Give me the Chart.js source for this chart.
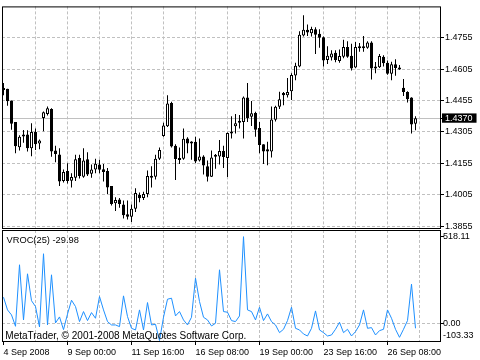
<!DOCTYPE html>
<html>
<head>
<meta charset="utf-8">
<script src="https://cdn.jsdelivr.net/npm/chart.js@4.4.1/dist/chart.umd.min.js"></script>
<style>
  html, body { margin: 0; padding: 0; background: #fff; }
  #wrap { position: relative; width: 480px; height: 360px; overflow: hidden; }
  canvas { position: absolute; left: 0; top: 0; }
  .note { position: absolute; font-family: "Liberation Sans", Arial, sans-serif; color: #000; white-space: nowrap; }
</style>
</head>
<body>
<div id="wrap">
  <canvas id="priceChart" width="480" height="360"></canvas>
  <canvas id="vrocChart" width="480" height="360"></canvas>
  <div class="note" style="left:6.5px; top:236px; font-size:9.3px; line-height:9.3px;">VROC(25) -29.98</div>
  <div class="note" style="left:5.3px; top:330.5px; font-size:10px; line-height:10px;">MetaTrader, © 2001-2008 MetaQuotes Software Corp.</div>
</div>
<script>
// EURUSD H4, 4 Sep - 26 Sep 2008 (one value per bar)
const opens = [
  1.4505, 1.4511, 1.4455, 1.4352, 1.4232, 1.4283, 1.4293, 1.4227, 1.4305, 1.4250,
  1.4372, 1.4391, 1.4414, 1.4216, 1.4197, 1.4071, 1.4118, 1.4072, 1.4086, 1.4180,
  1.4091, 1.4174, 1.4105, 1.4125, 1.4149, 1.4127, 1.4118, 1.4046, 1.3964, 1.3982,
  1.3958, 1.3911, 1.3899, 1.3938, 1.4005, 1.3989, 1.4008, 1.4094, 1.4091, 1.4177,
  1.4285, 1.4332, 1.4443, 1.4239, 1.4180, 1.4177, 1.4274, 1.4258, 1.4258, 1.4169,
  1.4188, 1.4141, 1.4091, 1.4186, 1.4188, 1.4214, 1.4180, 1.4305, 1.4332, 1.4358,
  1.4352, 1.4469, 1.4377, 1.4396, 1.4324, 1.4246, 1.4222, 1.4211, 1.4363, 1.4425,
  1.4491, 1.4480, 1.4499, 1.4575, 1.4618, 1.4766, 1.4793, 1.4777, 1.4796, 1.4774,
  1.4758, 1.4649, 1.4661, 1.4683, 1.4644, 1.4664, 1.4711, 1.4669, 1.4613, 1.4711,
  1.4705, 1.4707, 1.4733, 1.4618, 1.4614, 1.4664, 1.4636, 1.4583, 1.4628, 1.4608,
  1.4516, 1.4496, 1.4469, 1.4344
];
const highs = [
  1.4539, 1.4511, 1.4455, 1.4352, 1.4289, 1.4314, 1.4313, 1.4347, 1.4321, 1.4269,
  1.4403, 1.4427, 1.4418, 1.4239, 1.4227, 1.4125, 1.4155, 1.4108, 1.4196, 1.4196,
  1.4227, 1.4208, 1.4149, 1.4177, 1.4172, 1.4152, 1.4133, 1.4046, 1.3993, 1.3989,
  1.3977, 1.3977, 1.3958, 1.4036, 1.4016, 1.4019, 1.4121, 1.4141, 1.4196, 1.4230,
  1.4349, 1.4480, 1.4449, 1.4246, 1.4230, 1.4321, 1.4280, 1.4261, 1.4282, 1.4274,
  1.4193, 1.4168, 1.4216, 1.4200, 1.4266, 1.4239, 1.4302, 1.4380, 1.4391, 1.4386,
  1.4474, 1.4539, 1.4453, 1.4402, 1.4352, 1.4246, 1.4258, 1.4427, 1.4430, 1.4497,
  1.4496, 1.4563, 1.4586, 1.4636, 1.4786, 1.4863, 1.4818, 1.4808, 1.4805, 1.4796,
  1.4761, 1.4714, 1.4696, 1.4696, 1.4699, 1.4746, 1.4739, 1.4727, 1.4735, 1.4730,
  1.4763, 1.4738, 1.4739, 1.4639, 1.4677, 1.4672, 1.4646, 1.4641, 1.4652, 1.4625,
  1.4558, 1.4500, 1.4471, 1.4380
];
const lows = [
  1.4480, 1.4430, 1.4316, 1.4203, 1.4216, 1.4253, 1.4211, 1.4189, 1.4219, 1.4222,
  1.4308, 1.4383, 1.4186, 1.4160, 1.4047, 1.4063, 1.4058, 1.4039, 1.4071, 1.4082,
  1.4086, 1.4094, 1.4086, 1.4108, 1.4108, 1.4068, 1.4008, 1.3953, 1.3927, 1.3943,
  1.3891, 1.3886, 1.3875, 1.3922, 1.3969, 1.3980, 1.3993, 1.4039, 1.4078, 1.4171,
  1.4282, 1.4328, 1.4230, 1.4075, 1.4152, 1.4172, 1.4203, 1.4172, 1.4157, 1.4164,
  1.4102, 1.4068, 1.4089, 1.4129, 1.4149, 1.4133, 1.4089, 1.4274, 1.4297, 1.4321,
  1.4274, 1.4352, 1.4333, 1.4282, 1.4203, 1.4152, 1.4146, 1.4183, 1.4355, 1.4414,
  1.4433, 1.4469, 1.4458, 1.4552, 1.4614, 1.4761, 1.4763, 1.4761, 1.4677, 1.4707,
  1.4618, 1.4630, 1.4646, 1.4638, 1.4636, 1.4657, 1.4660, 1.4599, 1.4610, 1.4688,
  1.4688, 1.4702, 1.4555, 1.4586, 1.4610, 1.4618, 1.4578, 1.4552, 1.4574, 1.4602,
  1.4477, 1.4446, 1.4297, 1.4313
];
const closes = [
  1.4514, 1.4452, 1.4344, 1.4236, 1.4282, 1.4289, 1.4227, 1.4305, 1.4246, 1.4264,
  1.4399, 1.4418, 1.4211, 1.4199, 1.4068, 1.4113, 1.4071, 1.4089, 1.4174, 1.4094,
  1.4168, 1.4102, 1.4125, 1.4153, 1.4124, 1.4114, 1.4039, 1.3961, 1.3980, 1.3961,
  1.3907, 1.3899, 1.3938, 1.4013, 1.3988, 1.4008, 1.4094, 1.4086, 1.4177, 1.4219,
  1.4336, 1.4441, 1.4235, 1.4175, 1.4171, 1.4272, 1.4250, 1.4250, 1.4164, 1.4188,
  1.4144, 1.4091, 1.4183, 1.4194, 1.4214, 1.4185, 1.4300, 1.4297, 1.4347, 1.4349,
  1.4469, 1.4371, 1.4394, 1.4316, 1.4243, 1.4211, 1.4211, 1.4364, 1.4425, 1.4461,
  1.4480, 1.4496, 1.4577, 1.4621, 1.4769, 1.4793, 1.4780, 1.4797, 1.4769, 1.4755,
  1.4646, 1.4669, 1.4680, 1.4649, 1.4668, 1.4711, 1.4664, 1.4608, 1.4711, 1.4705,
  1.4710, 1.4732, 1.4608, 1.4608, 1.4668, 1.4633, 1.4583, 1.4628, 1.4610, 1.4603,
  1.4496, 1.4461, 1.4341, 1.4370
];
const vroc = [
  156, 80, 50, -18, 350, 20, 296, 135, 100, -22,
  416, -10, 290, 2, 38, -38, 55, 138, 100, 10,
  70, 16, 64, 30, 160, 80, 10, -10, -10, -20,
  164, 40, -30, -40, 80, -40, 124, -10, -6, -103.33,
  36, 144, 150, 44, 70, 20, -10, 36, 270, 130,
  36, 20, -16, 0, 320, 70, 66, 16, 10, 44,
  518.11, 80, 70, 20, 96, 16, 56, 10, -10, -56,
  -36, 16, 96, -30, -40, -64, -76, -30, 74, -40,
  -56, -76, -70, -36, 6, -56, -36, -76, -50, -10,
  80, -30, -26, -70, -44, -36, 80, 30, -36, -84,
  -36, 16, 234, -29.98
];

const timeTickBars = [0, 16, 32, 48, 64, 80, 96];
const timeTickLabels = ["4 Sep 2008", "9 Sep 00:00", "11 Sep 16:00", "16 Sep 08:00", "19 Sep 00:00", "23 Sep 16:00", "26 Sep 08:00"];
const timeGridBars = [8, 16, 24, 32, 40, 48, 56, 64, 72, 80, 88, 96, 104];
const priceTicks = [1.3855, 1.4005, 1.4155, 1.4305, 1.4370, 1.4455, 1.4605, 1.4755];
const lastPrice = 1.4370;
const vrocTicks = [-103.33, 0, 518.11];

Chart.defaults.font.family = "'Liberation Sans', Arial, sans-serif";
Chart.defaults.font.size = 9;
Chart.defaults.color = "#000";

const GRID = "#c0c0c0";
const NONE = "rgba(0,0,0,0)";

const framePlugin = {
  id: "frame",
  afterDraw(chart) {
    const a = chart.chartArea;
    const ctx = chart.ctx;
    ctx.save();
    ctx.strokeStyle = "#000";
    ctx.lineWidth = 1;
    ctx.strokeRect(a.left + 0.5, a.top + 0.5, a.right - a.left - 1, a.bottom - a.top - 1);
    ctx.restore();
  }
};

function timeAxis(showLabels) {
  return {
    type: "linear",
    min: -0.375,
    max: 109.375,
    offset: false,
    afterBuildTicks: scale => {
      scale.ticks = [0].concat(timeGridBars).map(v => ({ value: v }));
    },
    afterFit: scale => { scale.height = showLabels ? 18 : 0; },
    border: { display: false, dash: [3, 2] },
    grid: {
      offset: false,
      color: ctx => (ctx.tick && ctx.tick.value === 0) ? NONE : GRID,
      drawTicks: showLabels,
      tickLength: 3,
      tickColor: ctx => (ctx.tick && timeTickBars.includes(ctx.tick.value)) ? "#000" : NONE,
      tickBorderDash: []
    },
    ticks: {
      display: showLabels,
      align: "start",
      padding: 2,
      maxRotation: 0,
      autoSkip: false,
      callback: value => {
        const i = timeTickBars.indexOf(value);
        return i >= 0 ? timeTickLabels[i] : "";
      }
    }
  };
}

const candleColors = closes.map((c, i) => c >= opens[i] ? "#fff" : "#000");

new Chart(document.getElementById("priceChart"), {
  type: "bar",
  data: {
    datasets: [
      {
        label: "body",
        data: opens.map((o, i) => ({ x: i, y: [o, closes[i]] })),
        backgroundColor: candleColors,
        borderColor: "#000",
        borderWidth: 1,
        borderSkipped: false,
        barThickness: 3,
        minBarLength: 2,
        grouped: false,
        inflateAmount: 0
      },
      {
        label: "wick",
        data: lows.map((l, i) => ({ x: i, y: [l, highs[i]] })),
        backgroundColor: "#000",
        borderWidth: 0,
        barThickness: 1,
        grouped: false,
        inflateAmount: 0
      }
    ]
  },
  options: {
    responsive: false,
    animation: false,
    devicePixelRatio: 1,
    layout: { padding: { left: 2, top: 2, right: 0, bottom: 131 } },
    plugins: { legend: { display: false }, tooltip: { enabled: false } },
    scales: {
      x: timeAxis(false),
      y: {
        position: "right",
        min: 1.3841,
        max: 1.4905,
        afterBuildTicks: scale => {
          scale.ticks = priceTicks.map(v => ({ value: v }));
        },
        afterFit: scale => { scale.width = 39; },
        border: {
          display: false,
          dash: ctx => (ctx.tick && ctx.tick.value === lastPrice) ? [] : [3, 2]
        },
        grid: { color: GRID, tickLength: 3, tickColor: "#000", tickBorderDash: [] },
        ticks: {
          padding: 1,
          autoSkip: false,
          callback: v => v.toFixed(4),
          color: ctx => (ctx.tick && ctx.tick.value === lastPrice) ? "#fff" : "#000",
          showLabelBackdrop: ctx => !!(ctx.tick && ctx.tick.value === lastPrice),
          backdropColor: "#000",
          backdropPadding: { left: 3, right: 4, top: -0.5, bottom: -1 }
        }
      }
    }
  },
  plugins: [framePlugin]
});

new Chart(document.getElementById("vrocChart"), {
  type: "line",
  data: {
    datasets: [
      {
        label: "VROC(25)",
        data: vroc.map((v, i) => ({ x: i, y: v })),
        borderColor: "#1e90ff",
        borderWidth: 1,
        pointRadius: 0,
        tension: 0,
        fill: false
      }
    ]
  },
  options: {
    responsive: false,
    animation: false,
    devicePixelRatio: 1,
    layout: { padding: { left: 2, top: 230, right: 0, bottom: 0 } },
    plugins: { legend: { display: false }, tooltip: { enabled: false } },
    scales: {
      x: timeAxis(true),
      y: {
        position: "right",
        min: -112,
        max: 558,
        afterBuildTicks: scale => {
          scale.ticks = vrocTicks.map(v => ({ value: v }));
        },
        afterFit: scale => { scale.width = 39; },
        border: { display: false, dash: [3, 2] },
        grid: {
          color: ctx => (ctx.tick && ctx.tick.value === 0) ? GRID : NONE,
          tickLength: 3,
          tickColor: ctx => (ctx.tick && ctx.tick.value < 0) ? NONE : "#000",
          tickBorderDash: []
        },
        ticks: {
          padding: -1,
          autoSkip: false,
          callback: v => v < 0 ? [v.toFixed(2), ""] : v.toFixed(2)
        }
      }
    }
  },
  plugins: [framePlugin]
});
</script>
</body>
</html>
